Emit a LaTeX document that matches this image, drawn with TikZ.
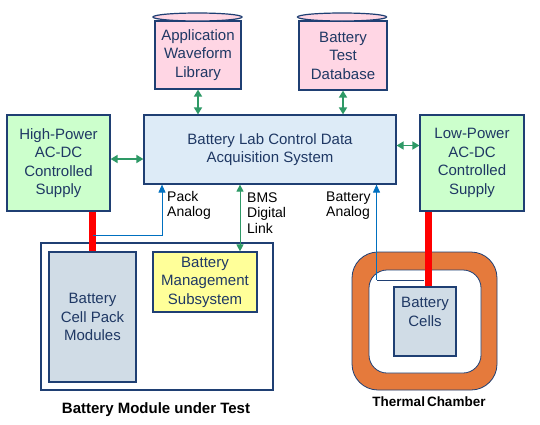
\documentclass[tikz,border=0pt]{standalone}
\usepackage{fontspec}
\setmainfont{Liberation Sans}
\usetikzlibrary{arrows.meta,shapes.geometric}
\definecolor{navy}{HTML}{1F3F73}
\definecolor{txtblue}{HTML}{1F3864}
\definecolor{pinkf}{HTML}{FFD6E4}
\definecolor{greenf}{HTML}{CCFFCC}
\definecolor{daqf}{HTML}{DDEBF7}
\definecolor{yellf}{HTML}{FFFF99}
\definecolor{cellf}{HTML}{D0DCE6}
\definecolor{arrgreen}{HTML}{2E9966}
\definecolor{arrblue}{HTML}{0070C0}
\definecolor{chamberf}{HTML}{E57A3C}
\begin{document}
\begin{tikzpicture}[x=1pt,y=-1pt,
  boxstyle/.style={draw=navy,line width=1.2pt,align=center,text=txtblue,
    font=\fontsize{15}{18.5}\selectfont,inner sep=0pt},
  capstyle/.style={draw=navy,line width=1.2pt,ellipse,inner sep=0pt},
  dbl/.style={draw=arrgreen,line width=1.6pt,{Triangle[length=7pt,width=8pt]}-{Triangle[length=7pt,width=8pt]}},
  thin dbl/.style={draw=arrgreen,line width=1pt,{Triangle[length=7pt,width=7pt]}-{Triangle[length=7pt,width=7pt]}},
  sig/.style={draw=arrblue,line width=1pt,-{Triangle[length=8pt,width=7pt]}},
  cable/.style={draw=red,line width=7pt},
  lbl/.style={align=left,font=\fontsize{14}{15.5}\selectfont,inner sep=0pt,anchor=west},
  title/.style={font=\bfseries\fontsize{15}{17}\selectfont,inner sep=0pt}
]
\useasboundingbox (0,0) rectangle (540,424);
\fill[white] (0,0) rectangle (540,424);

% databases
\node[boxstyle,fill=pinkf,minimum width=86pt,minimum height=68pt] (awl) at (198,55) {Application\\Waveform\\Library};
\node[capstyle,fill=pinkf,minimum width=89pt,minimum height=8pt] (awlcap) at (197.5,17) {};
\node[boxstyle,fill=pinkf,minimum width=88pt,minimum height=69pt] (btd) at (343,55.5) {Battery\\Test\\Database};
\node[capstyle,fill=pinkf,minimum width=89pt,minimum height=8pt] (btdcap) at (342,17) {};

% main boxes
\node[boxstyle,fill=daqf,minimum width=252pt,minimum height=69pt] (daq) at (270,149.5) {Battery Lab Control Data\\Acquisition System};
\node[boxstyle,fill=greenf,minimum width=103pt,minimum height=96pt] (hp) at (58.5,163) {High-Power\\AC-DC\\Controlled\\Supply};
\node[boxstyle,fill=greenf,minimum width=104pt,minimum height=96pt] (lp) at (472,163) {Low-Power\\AC-DC\\Controlled\\Supply};

% module under test
\node[draw=navy,line width=2.2pt,minimum width=232pt,minimum height=147pt,inner sep=0pt] (mod) at (157,316.5) {};
\node[boxstyle,fill=cellf,minimum width=87pt,minimum height=130pt] (cpm) at (92.5,317) {Battery\\Cell Pack\\Modules};
\node[boxstyle,fill=yellf,minimum width=104pt,minimum height=60pt] (bms) at (205,282) {Battery\\Management\\Subsystem};

% thermal chamber
\node[draw=navy,line width=0.8pt,fill=chamberf,rounded corners=26pt,minimum width=145pt,minimum height=138pt,inner sep=0pt] (chamber) at (424.5,321) {};
\node[draw=navy,line width=0.8pt,fill=white,rounded corners=18pt,minimum width=112pt,minimum height=103pt,inner sep=0pt] (inner) at (425,321.5) {};
\node[boxstyle,fill=cellf,minimum width=62pt,minimum height=69pt] (cells) at (425,321.5) {};
\node[align=center,text=txtblue,font=\fontsize{15}{18.5}\selectfont,inner sep=0pt] (cellstext) at (425,312) {Battery\\Cells};

% data arrows
\draw[dbl] (awl.south) -- (awl.south |- daq.north);
\draw[dbl] (btd.south) -- (btd.south |- daq.north);
\draw[dbl] ([yshift=4pt]hp.east) -- ([yshift=4pt]hp.east -| daq.west);
\draw[dbl] ([yshift=4pt]daq.east) -- ([yshift=4pt]daq.east -| lp.west);

% power cables
\coordinate (hpc) at (92.5,211);
\draw[cable] (hp.south -| hpc) -- (hpc |- cpm.north);
\coordinate (lpc) at (428,211);
\draw[cable] (lp.south -| lpc) -- (lpc |- cells.north);

% signal lines
\coordinate (pa) at (93,235);
\coordinate (pax) at (162,184);
\draw[sig] (pa) -| (pax |- daq.south);
\coordinate (bmsx) at (240,184);
\draw[thin dbl] (bmsx |- daq.south) -- (bmsx |- bms.north);
\coordinate (ba) at (424,280);
\coordinate (bax) at (376.5,280);
\draw[draw=navy,line width=1pt] (ba) -- (bax);
\draw[sig] (bax) -- (bax |- daq.south);

% labels
\node[lbl] (lpack) at (167,205.5) {Pack\\Analog};
\node[lbl] (lbms) at (247,213) {BMS\\Digital\\Link};
\node[lbl] (lbat) at (326,205.5) {Battery\\Analog};
\node[title] (tmod) at (156,410) {Battery Module under Test};
\node[title,font=\bfseries\fontsize{13.5}{16}\selectfont] (tch) at (429,402) {Thermal\kern2pt Chamber};
\end{tikzpicture}
\end{document}
